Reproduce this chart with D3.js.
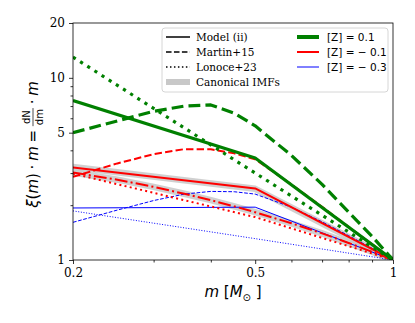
<!DOCTYPE html>
<html>
<head>
<meta charset="utf-8">
<script src="https://cdn.jsdelivr.net/npm/d3@7"></script>
<style>
  body { margin: 0; background: #fff; }
  svg { display: block; }
  text { white-space: pre; }
</style>
</head>
<body>
<div id="chart"></div>
<script>
const massBreak = [0.2, 0.5, 1];
const massCurve = [0.2, 0.25, 0.3, 0.35, 0.4, 0.45, 0.5, 0.6, 0.7, 0.8, 0.9, 1];

// Model (ii), piecewise at 0.5
const modelZp01 = [7.5, 3.63, 1];
const modelZm01 = [3.22, 2.47, 1];
const modelZm03 = [1.93, 1.95, 1];

// Martin+15
const martinZp01 = [5.0, 5.8, 6.55, 7.0, 7.1, 6.4, 5.45, 3.75, 2.6, 1.83, 1.35, 1];
const martinZm01 = [2.86, 3.39, 3.81, 4.06, 4.05, 3.85, 3.57, 2.6, 1.96, 1.52, 1.22, 1];
const martinZm03 = [1.61, 1.88, 2.12, 2.3, 2.38, 2.37, 2.3, 1.95, 1.62, 1.36, 1.16, 1];

// Lonoce+23
const lonoceZp01 = [13, 3.0, 1];
const lonoceZm01 = [2.98, 1.72, 1];
const lonoceZm03 = [1.86, 1.31, 1];

// canonical IMFs (gray bands)
const canonUpper = [3.24, 2.46, 1];
const canonLower = [3.02, 2.76, 2.52, 2.31, 2.13, 1.97, 1.83, 1.59, 1.40, 1.24, 1.11, 1];

// ticks
const yMajor = [1, 5, 10, 20];
const yMinor = [2, 3, 4, 6, 7, 8, 9];
const xMajor = [0.2, 0.5, 1];
const xMinor = [0.3, 0.4, 0.6, 0.7, 0.8, 0.9];

const margin = { t: 23, r: 22, b: 63, l: 73 };
const W = 415 - margin.l - margin.r;
const H = 323 - margin.t - margin.b;

const scaleX = d3.scaleLog().domain([0.2, 1]).range([0, W]);
const scaleY = d3.scaleLog().domain([1, 20]).range([H, 0]);

const serif = '"DejaVu Serif", serif';
const sans = '"DejaVu Sans", sans-serif';

const svg = d3.select('#chart')
  .append('svg')
  .attr('width', 415)
  .attr('height', 323);

const g = svg.append('g')
  .attr('transform', `translate(${margin.l}, ${margin.t})`);

g.append('defs')
  .append('clipPath')
  .attr('id', 'clip')
  .append('rect')
  .attr('width', W)
  .attr('height', H);

const lines = d3.line()
  .x(d => scaleX(d[0]))
  .y(d => scaleY(d[1]));

const plot = g.append('g').attr('clip-path', 'url(#clip)');

function drawLine(mass, vals, color, width, dash, opacity) {
  plot.append('path')
    .datum(mass.map((m, i) => [m, vals[i]]))
    .attr('fill', 'none')
    .attr('stroke', color)
    .attr('stroke-width', width)
    .attr('stroke-dasharray', dash || null)
    .attr('stroke-opacity', opacity || 1)
    .attr('stroke-linejoin', 'round')
    .attr('d', lines);
}

const dashed = lw => `${3.7 * lw},${1.6 * lw}`;
const dotted = lw => `${1 * lw},${1.65 * lw}`;
const dashdot = lw => `${6.4 * lw},${1.6 * lw},${1 * lw},${1.6 * lw}`;

// gray canonical bands
drawLine(massBreak, canonUpper, '#c8c8c8', 6.5, null, 0.85);
drawLine(massCurve, canonLower, '#c8c8c8', 6.5, null, 0.85);

// blue [Z] = -0.3
drawLine(massBreak, modelZm03, 'blue', 1);
drawLine(massCurve, martinZm03, 'blue', 1, dashed(1));
drawLine(massBreak, lonoceZm03, 'blue', 1, dotted(1));

// red [Z] = -0.1
drawLine(massBreak, modelZm01, 'red', 2);
drawLine(massCurve, canonLower, 'red', 2, dashdot(2));
drawLine(massCurve, martinZm01, 'red', 2, dashed(2));
drawLine(massBreak, lonoceZm01, 'red', 2, dotted(2));

// green [Z] = 0.1
drawLine(massBreak, modelZp01, 'green', 3.2);
drawLine(massCurve, martinZp01, 'green', 3.2, dashed(3.2));
drawLine(massBreak, lonoceZp01, 'green', 3.2, dotted(3.2));

// Axes
const xAxisMinor = d3.axisBottom(scaleX).tickValues(xMinor).tickSize(2.5).tickFormat('');
const xAxisMajor = d3.axisBottom(scaleX).tickValues(xMajor).tickSize(4).tickPadding(4)
  .tickFormat(d => String(d));
const yAxisMinor = d3.axisLeft(scaleY).tickValues(yMinor).tickSize(2.5).tickFormat('');
const yAxisMajor = d3.axisLeft(scaleY).tickValues(yMajor).tickSize(4).tickPadding(4)
  .tickFormat(d => String(d));

[xAxisMinor, xAxisMajor].forEach(ax => {
  g.append('g')
    .attr('transform', `translate(0, ${H})`)
    .call(ax)
    .call(s => s.select('.domain').remove());
});
[yAxisMinor, yAxisMajor].forEach(ax => {
  g.append('g')
    .call(ax)
    .call(s => s.select('.domain').remove());
});

g.selectAll('.tick line').attr('stroke', '#000').attr('stroke-width', 0.8);
g.selectAll('.tick text')
  .attr('fill', '#000')
  .style('font-family', serif)
  .style('font-size', '12px');

g.append('rect')
  .attr('width', W)
  .attr('height', H)
  .attr('fill', 'none')
  .attr('stroke', '#000')
  .attr('stroke-width', 0.8);

// x label
svg.append('text')
  .attr('x', margin.l + W / 2)
  .attr('y', 297)
  .attr('text-anchor', 'middle')
  .style('font-family', sans)
  .style('font-size', '15px')
  .html('<tspan font-style="italic">m</tspan> [<tspan font-style="italic">M</tspan><tspan font-size="10px" dy="4">⊙</tspan><tspan dy="-4"> ]</tspan>');

// y label, rotated, built piece by piece
const ylab = svg.append('g')
  .attr('transform', `translate(38, ${margin.t + H / 2 + 3}) rotate(-90)`);
const yInner = ylab.append('g');
const fs = 15;
let cx = 0;
function piece(txt, italic) {
  const t = yInner.append('text')
    .attr('x', cx)
    .attr('y', 0)
    .style('font-family', sans)
    .style('font-size', fs + 'px')
    .style('font-style', italic ? 'italic' : 'normal')
    .text(txt);
  cx += t.node().getComputedTextLength();
}
const sp = '\u2005';
piece('ξ', true);
piece('(', false);
piece('m', true);
piece(')' + sp + '·' + sp, false);
piece('m', true);
piece(sp + '=' + sp, false);
// fraction dN/dm
const fracFs = 10;
const num = yInner.append('text')
  .attr('y', -8)
  .style('font-family', sans)
  .style('font-size', fracFs + 'px')
  .text('dN');
const den = yInner.append('text')
  .attr('y', 5)
  .style('font-family', sans)
  .style('font-size', fracFs + 'px')
  .text('dm');
const fw = Math.max(num.node().getComputedTextLength(), den.node().getComputedTextLength()) + 2;
num.attr('x', cx + fw / 2).attr('text-anchor', 'middle');
den.attr('x', cx + fw / 2).attr('text-anchor', 'middle');
yInner.append('line')
  .attr('x1', cx).attr('x2', cx + fw)
  .attr('y1', -5).attr('y2', -5)
  .attr('stroke', '#000')
  .attr('stroke-width', 0.7);
cx += fw;
piece(sp + '·' + sp, false);
piece('m', true);
yInner.attr('transform', `translate(${-cx / 2}, 0)`);

// Legend
const legend = g.append('g');
legend.append('rect')
  .attr('x', 89)
  .attr('y', 5)
  .attr('width', 226)
  .attr('height', 64)
  .attr('rx', 3)
  .attr('fill', '#fff')
  .attr('fill-opacity', 0.8)
  .attr('stroke', '#ccc')
  .attr('stroke-width', 0.8);

const legLeft = [
  { label: 'Model (ii)', color: '#000', w: 1.5, dash: null },
  { label: 'Martin+15', color: '#000', w: 1.5, dash: dashed(1.5) },
  { label: 'Lonoce+23', color: '#000', w: 1.5, dash: dotted(1.5) },
  { label: 'Canonical IMFs', color: '#c8c8c8', w: 6, dash: null }
];
const legRight = [
  { label: '[Z] = 0.1', color: 'green', w: 4 },
  { label: '[Z] = − 0.1', color: 'red', w: 2 },
  { label: '[Z] = − 0.3', color: 'blue', w: 1 }
];

legLeft.forEach((d, i) => {
  const yy = 14 + i * 15;
  legend.append('line')
    .attr('x1', 93).attr('x2', 117)
    .attr('y1', yy).attr('y2', yy)
    .attr('stroke', d.color)
    .attr('stroke-width', d.w)
    .attr('stroke-dasharray', d.dash);
  legend.append('text')
    .attr('x', 123)
    .attr('y', yy + 3.8)
    .style('font-family', serif)
    .style('font-size', '10.5px')
    .text(d.label);
});
legRight.forEach((d, i) => {
  const yy = 14 + i * 15;
  legend.append('line')
    .attr('x1', 224).attr('x2', 246)
    .attr('y1', yy).attr('y2', yy)
    .attr('stroke', d.color)
    .attr('stroke-width', d.w);
  legend.append('text')
    .attr('x', 254)
    .attr('y', yy + 3.8)
    .style('font-family', sans)
    .style('font-size', '10.5px')
    .text(d.label);
});
</script>
</body>
</html>
